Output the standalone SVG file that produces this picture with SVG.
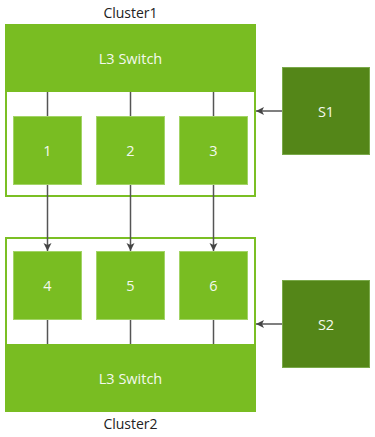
<svg xmlns="http://www.w3.org/2000/svg" width="375" height="437" viewBox="0 0 375 437">
<style>
.frame{fill:#fff;stroke:#7bbf24;stroke-width:2}
.sw{fill:#79bd22}
.node{fill:#79bd22;stroke:#a3d467;stroke-width:1}
.s{fill:#548618;stroke:#7aa94a;stroke-width:1}
.lbl{font-family:"Open Sans","Liberation Sans",sans-serif;font-size:14.5px;fill:#f4f9ee;text-anchor:middle;dominant-baseline:central}
.cap{font-family:"Open Sans","Liberation Sans",sans-serif;font-size:14px;fill:#222;text-anchor:middle;dominant-baseline:central}
.ln{stroke:#555;stroke-width:1.5;fill:none}
</style>
<defs>
<marker id="ah" markerWidth="10" markerHeight="10" refX="9" refY="5" orient="auto" markerUnits="userSpaceOnUse">
<path d="M1,1 L9,5 L1,9 L3,5 Z" fill="#444"/>
</marker>
</defs>
<g id="cluster1">
<rect class="frame" x="6" y="25" width="249" height="171"/>
<text class="cap" x="130.5" y="12">Cluster1</text>
</g>
<g id="cluster2">
<rect class="frame" x="6" y="238" width="249" height="173"/>
<text class="cap" x="130.5" y="423">Cluster2</text>
</g>
<g id="switch1">
<rect class="sw" x="5" y="24" width="251" height="68"/>
<text class="lbl" x="130.5" y="58">L3 Switch</text>
</g>
<g id="switch2">
<rect class="sw" x="5" y="344" width="251" height="68"/>
<text class="lbl" x="130.5" y="378">L3 Switch</text>
</g>
<g id="connectors">
<line class="ln" x1="47.5" y1="92" x2="47.5" y2="116.5"/>
<line class="ln" x1="130.5" y1="92" x2="130.5" y2="116.5"/>
<line class="ln" x1="213.5" y1="92" x2="213.5" y2="116.5"/>
<line class="ln" x1="47.5" y1="184" x2="47.5" y2="251" marker-end="url(#ah)"/>
<line class="ln" x1="130.5" y1="184" x2="130.5" y2="251" marker-end="url(#ah)"/>
<line class="ln" x1="213.5" y1="184" x2="213.5" y2="251" marker-end="url(#ah)"/>
<line class="ln" x1="47.5" y1="319" x2="47.5" y2="344"/>
<line class="ln" x1="130.5" y1="319" x2="130.5" y2="344"/>
<line class="ln" x1="213.5" y1="319" x2="213.5" y2="344"/>
<line class="ln" x1="282" y1="111" x2="256" y2="111" marker-end="url(#ah)"/>
<line class="ln" x1="282" y1="324" x2="256" y2="324" marker-end="url(#ah)"/>
</g>
<g id="n1"><rect class="node" x="13.5" y="116.5" width="68" height="68"/><text class="lbl" x="47.5" y="150.5">1</text></g>
<g id="n2"><rect class="node" x="96.5" y="116.5" width="68" height="68"/><text class="lbl" x="130.5" y="150.5">2</text></g>
<g id="n3"><rect class="node" x="179.5" y="116.5" width="68" height="68"/><text class="lbl" x="213.5" y="150.5">3</text></g>
<g id="n4"><rect class="node" x="13.5" y="251.5" width="68" height="68"/><text class="lbl" x="47.5" y="285.5">4</text></g>
<g id="n5"><rect class="node" x="96.5" y="251.5" width="68" height="68"/><text class="lbl" x="130.5" y="285.5">5</text></g>
<g id="n6"><rect class="node" x="179.5" y="251.5" width="68" height="68"/><text class="lbl" x="213.5" y="285.5">6</text></g>
<g id="s1"><rect class="s" x="282.5" y="67.5" width="87" height="87"/><text class="lbl" x="326" y="111">S1</text></g>
<g id="s2"><rect class="s" x="282.5" y="280.5" width="87" height="87"/><text class="lbl" x="326" y="324">S2</text></g>
</svg>
